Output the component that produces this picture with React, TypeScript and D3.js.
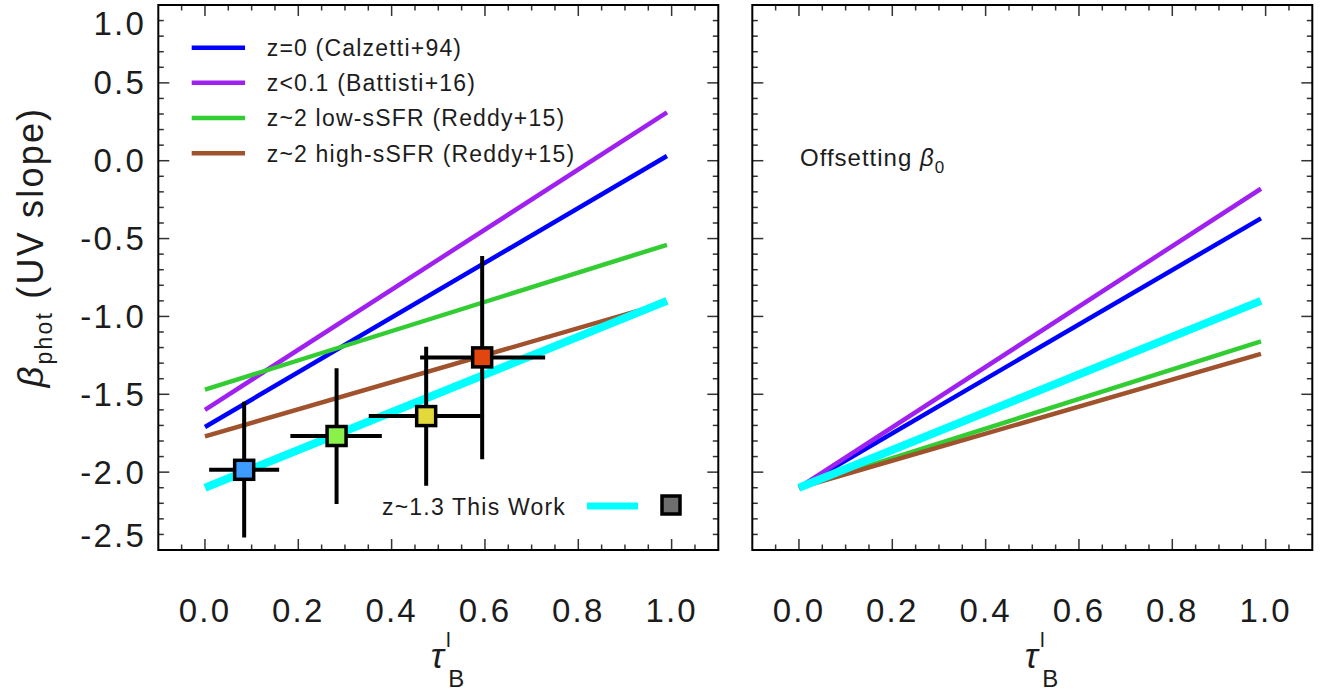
import React from 'react';
import * as d3 from 'd3';

// line endpoints at tau = 0 and tau = 0.99
const TAU_ENDS = [0, 0.99];
const SERIES_NAMES = [
  'z=0 (Calzetti+94)',
  'z<0.1 (Battisti+16)',
  'z~2 low-sSFR (Reddy+15)',
  'z~2 high-sSFR (Reddy+15)',
];
const SERIES_COLORS = ['#0000ff', '#a020f0', '#32cd32', '#a0522d'];
const BETA_START = [-1.71, -1.6, -1.47, -1.77];
const BETA_END = [0.03, 0.31, -0.54, -0.91];
// right panel: same relations shifted to this work's beta_0
const OFFSET_START = [-2.1, -2.1, -2.1, -2.1];
const OFFSET_END = [-0.37, -0.18, -1.16, -1.24];
const THIS_WORK_LINE = [-2.1, -0.9];

// stacked bins of this work
const BIN_TAU = [0.084, 0.282, 0.474, 0.594];
const BIN_TAU_LO = [0.009, 0.183, 0.351, 0.461];
const BIN_TAU_HI = [0.159, 0.379, 0.591, 0.729];
const BIN_BETA = [-1.985, -1.768, -1.64, -1.263];
const BIN_BETA_LO = [-2.419, -2.205, -2.087, -1.918];
const BIN_BETA_HI = [-1.548, -1.333, -1.195, -0.612];
const BIN_COLORS = ['#3d9dff', '#8af04a', '#e3d93a', '#e2450e'];

const X_LABELS = [0, 0.2, 0.4, 0.6, 0.8, 1.0];
const Y_LABELS = [1.0, 0.5, 0.0, -0.5, -1.0, -1.5, -2.0, -2.5];

const FONT = "'Liberation Sans', Arial, Helvetica, sans-serif";
const INK = '#1c1c1c';

const TOP = 5;
const BOTTOM = 550;

function Ticks({ x, y }) {
  const [x0, x1] = x.range();
  const [y0, y1] = [TOP, BOTTOM];
  const xMinor = d3.range(-0.05, 1.07, 0.05);
  const yMinor = d3.range(-2.4, 1.0, 0.1);
  const isMajX = (v) => Math.abs(v * 5 - Math.round(v * 5)) < 1e-6;
  const isMajY = (v) => Math.abs(v * 2 - Math.round(v * 2)) < 1e-6;
  return (
    <g stroke="#333" strokeWidth={1.5}>
      {xMinor.map((v, i) => {
        const len = isMajX(v) ? 11 : 5.5;
        const px = x(v);
        return (
          <g key={'x' + i}>
            <line x1={px} x2={px} y1={y1} y2={y1 - len} />
            <line x1={px} x2={px} y1={y0} y2={y0 + len} />
          </g>
        );
      })}
      {yMinor.map((v, i) => {
        const len = isMajY(v) ? 11 : 5.5;
        const py = y(v);
        return (
          <g key={'y' + i}>
            <line x1={x0} x2={x0 + len} y1={py} y2={py} />
            <line x1={x1} x2={x1 - len} y1={py} y2={py} />
          </g>
        );
      })}
    </g>
  );
}

function XAxisText({ x }) {
  const cx = (x.range()[0] + x.range()[1]) / 2;
  return (
    <g fill={INK} fontFamily={FONT}>
      {X_LABELS.map((v) => (
        <text key={v} x={x(v)} y={622} fontSize={33} letterSpacing={2.2} textAnchor="middle">
          {v.toFixed(1)}
        </text>
      ))}
      <text x={cx - 1} y={668} fontSize={35} fontStyle="italic" textAnchor="middle">τ</text>
      <text x={cx + 10} y={647} fontSize={21} textAnchor="middle">l</text>
      <text x={cx + 18} y={687} fontSize={24} textAnchor="middle">B</text>
    </g>
  );
}

export default function App() {
  const xL = d3.scaleLinear().domain([-0.1, 1.1]).range([158.3, 718.3]);
  const xR = d3.scaleLinear().domain([-0.1, 1.1]).range([752.3, 1312.3]);
  const y = d3.scaleLinear().domain([-2.5, 1.0]).range([BOTTOM, TOP]);

  const seg = (xs, a, b) =>
    d3.line()([
      [xs(TAU_ENDS[0]), y(a)],
      [xs(TAU_ENDS[1]), y(b)],
    ]);

  const legendY = [47.7, 82.8, 117.9, 153.3];

  return (
    <svg
      width={1323}
      height={692}
      style={{ position: 'absolute', left: 0, top: 0, background: '#fff' }}
    >
      <rect width={1323} height={692} fill="#fff" />

      {/* left panel */}
      <g>
        {SERIES_NAMES.map((n, i) => (
          <path key={n} d={seg(xL, BETA_START[i], BETA_END[i])} stroke={SERIES_COLORS[i]} strokeWidth={4.5} fill="none" />
        ))}
        <path d={seg(xL, THIS_WORK_LINE[0], THIS_WORK_LINE[1])} stroke="#00ffff" strokeWidth={8} fill="none" />

        <g stroke="#000" strokeWidth={4}>
          {BIN_TAU.map((t, i) => (
            <g key={i}>
              <line x1={xL(BIN_TAU_LO[i])} x2={xL(BIN_TAU_HI[i])} y1={y(BIN_BETA[i])} y2={y(BIN_BETA[i])} />
              <line x1={xL(t)} x2={xL(t)} y1={y(BIN_BETA_LO[i])} y2={y(BIN_BETA_HI[i])} />
            </g>
          ))}
        </g>
        {BIN_TAU.map((t, i) => (
          <rect key={i} x={xL(t) - 9.5} y={y(BIN_BETA[i]) - 9.5} width={19} height={19}
            fill={BIN_COLORS[i]} stroke="#000" strokeWidth={3.5} />
        ))}

        {/* legend */}
        <g fontFamily={FONT} fontSize={23} letterSpacing={1.2} fill={INK}>
          {SERIES_NAMES.map((n, i) => (
            <g key={n}>
              <line x1={191.7} x2={245} y1={legendY[i]} y2={legendY[i]} stroke={SERIES_COLORS[i]} strokeWidth={4.5} />
              <text x={266.7} y={legendY[i] + 8.5}>{n}</text>
            </g>
          ))}
          <text x={382} y={515}>z~1.3 This Work</text>
          <line x1={587} x2={638} y1={506} y2={506} stroke="#00ffff" strokeWidth={7} />
          <rect x={662} y={496} width={18} height={18} fill="#6e6e6e" stroke="#000" strokeWidth={3.5} />
        </g>

        <Ticks x={xL} y={y} />
        <rect x={158.3} y={TOP} width={560} height={BOTTOM - TOP} fill="none" stroke="#000" strokeWidth={2} />

        <g fill={INK} fontFamily={FONT} fontSize={33} letterSpacing={2.2} textAnchor="end">
          {Y_LABELS.map((v) => {
            const py = Math.min(Math.max(y(v), TOP + 18), BOTTOM - 15);
            return (
              <text key={v} x={146} y={py + 11.5}>{v.toFixed(1)}</text>
            );
          })}
        </g>
        <text transform="translate(43,247) rotate(-90)" fontFamily={FONT} fontSize={36} fill={INK} textAnchor="middle" letterSpacing={2.2}>
          <tspan fontStyle="italic">β</tspan>
          <tspan fontSize={23} dy={9}>phot</tspan>
          <tspan dy={-9}> (UV slope)</tspan>
        </text>
        <XAxisText x={xL} />
      </g>

      {/* right panel */}
      <g>
        {SERIES_NAMES.map((n, i) => (
          <path key={n} d={seg(xR, OFFSET_START[i], OFFSET_END[i])} stroke={SERIES_COLORS[i]} strokeWidth={4.5} fill="none" />
        ))}
        <path d={seg(xR, THIS_WORK_LINE[0], THIS_WORK_LINE[1])} stroke="#00ffff" strokeWidth={8} fill="none" />

        <text x={800} y={166} fontFamily={FONT} fontSize={24} letterSpacing={1} fill={INK}>
          Offsetting <tspan fontStyle="italic">β</tspan>
          <tspan fontSize={17} dy={7}>0</tspan>
        </text>

        <Ticks x={xR} y={y} />
        <rect x={752.3} y={TOP} width={560} height={BOTTOM - TOP} fill="none" stroke="#000" strokeWidth={2} />
        <XAxisText x={xR} />
      </g>
    </svg>
  );
}
